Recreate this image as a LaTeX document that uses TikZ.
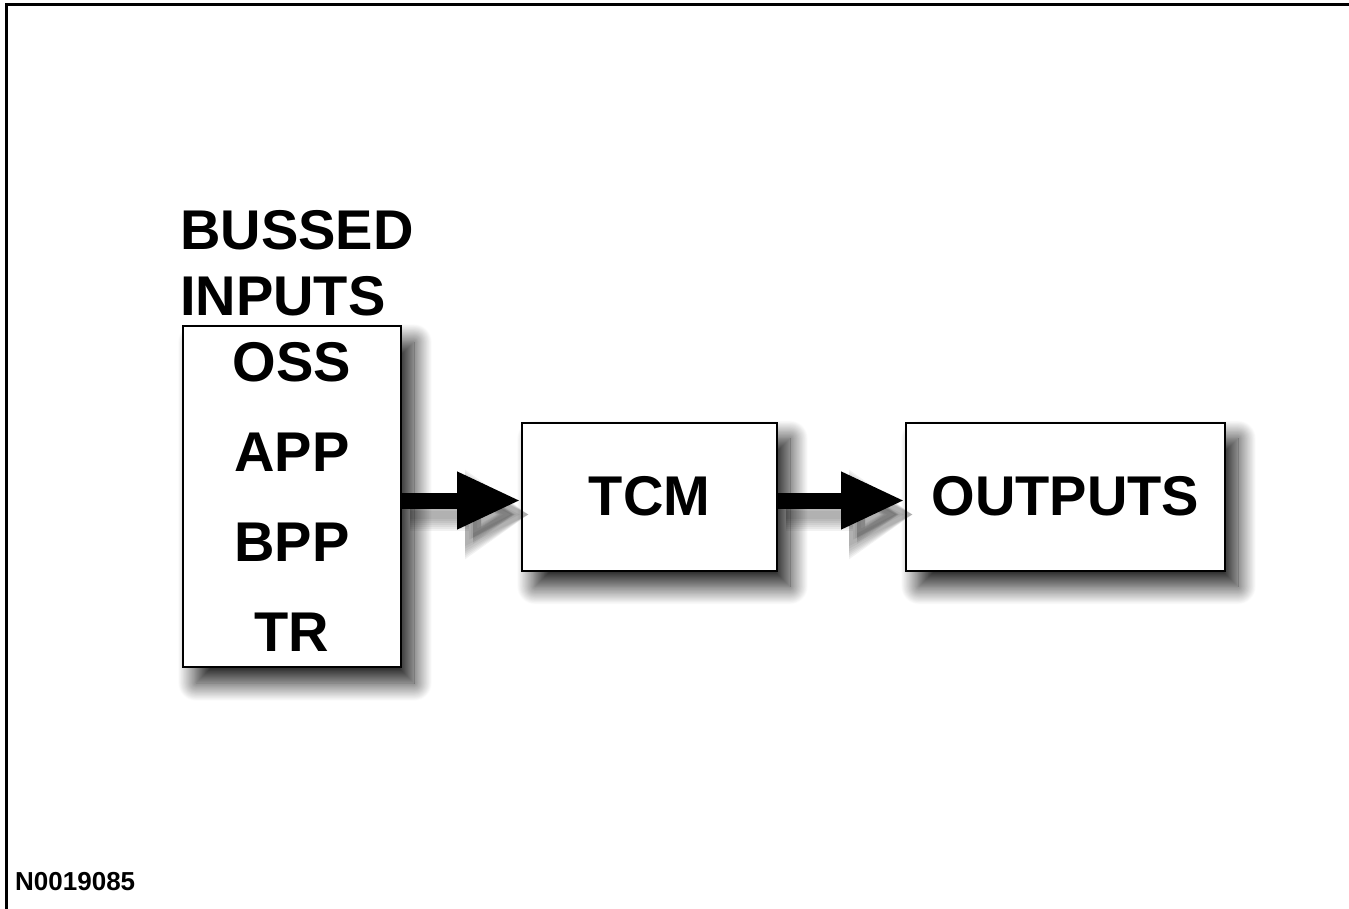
\documentclass[tikz,border=0pt]{standalone}
\usepackage{fontspec}
\setmainfont{Liberation Sans}
\usetikzlibrary{arrows.meta,positioning,shadows.blur}

\begin{document}
\begin{tikzpicture}[
			x=1pt,y=-1pt,
			node distance=119pt,
			box/.style={draw,line width=2pt,fill=white,align=center,inner sep=0pt,
				font=\fontsize{56}{90}\selectfont\bfseries,
				blur shadow={shadow xshift=13pt,shadow yshift=-16pt,shadow blur radius=18pt,shadow blur steps=30,shadow opacity=90}},
			arrow/.style={-{Triangle[length=64pt,width=53pt]},line width=16pt},
			arrowshade/.style={line width=#1pt,black,opacity=0.05,
				-{Triangle[length=64pt,width={53pt+#1pt}]},
				transform canvas={shift={(8pt,-14pt)}}}
			]
			\useasboundingbox (0,0) rectangle (1349,909);
			% frame
			\draw[line width=3pt] (6,909) -- (6,5) -- (1349,5);
			\node[box,minimum width=218pt,minimum height=341pt] (inputs) at (292,496.5) {OSS\\APP\\BPP\\TR};
			\node[box,minimum width=255pt,minimum height=148pt,right=of inputs] (tcm) {TCM};
			\node[box,minimum width=319pt,minimum height=148pt,right=127pt of tcm] (outputs) {OUTPUTS};
			\node[anchor=south west,inner sep=0pt,align=left,font=\fontsize{56}{66}\selectfont\bfseries]
				(title) at ([xshift=-2pt,yshift=9pt]inputs.north west) {BUSSED\\INPUTS};
			\node[anchor=base west,inner sep=0pt,font=\fontsize{26}{30}\selectfont\bfseries] (code) at (15,890) {N0019085};
			% soft arrow shadows
			\foreach \w in {8,12,16,20,24,28,32} {
				\draw[arrowshade=\w] ([yshift=-4pt]inputs.east) -- ([yshift=-4pt]tcm.west);
				\draw[arrowshade=\w] ([yshift=-4pt]tcm.east) -- ([yshift=-4pt]outputs.west);
			}
			\draw[arrow] ([yshift=-4pt]inputs.east) -- ([yshift=-4pt]tcm.west);
			\draw[arrow] ([yshift=-4pt]tcm.east) -- ([yshift=-4pt]outputs.west);
		\end{tikzpicture}
\end{document}
